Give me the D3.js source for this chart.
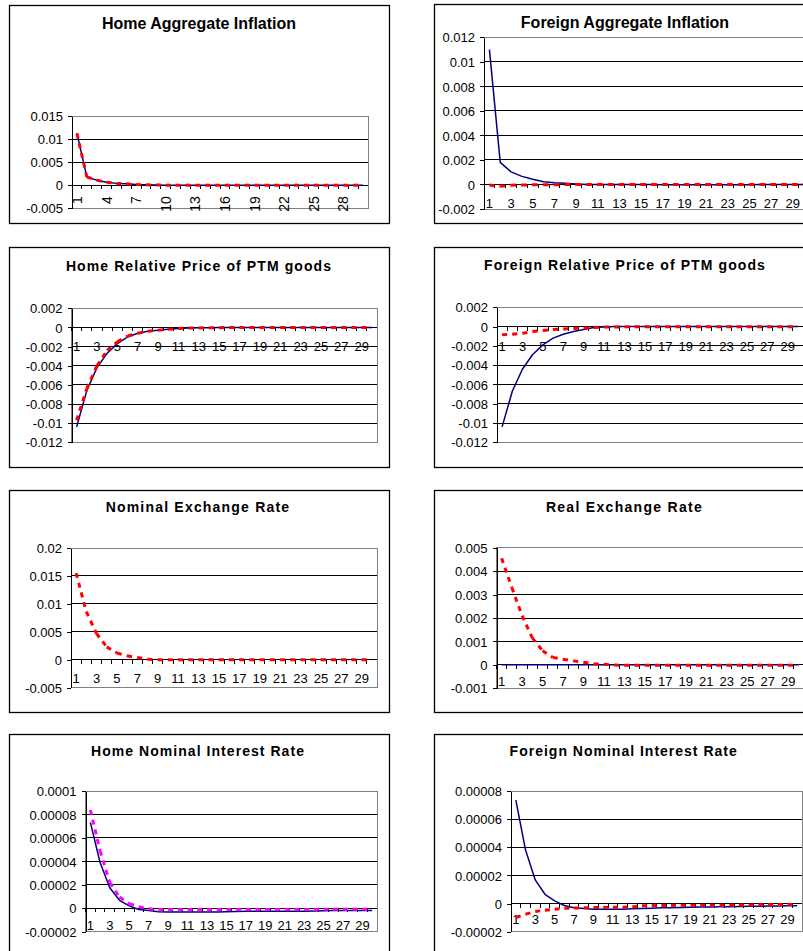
<!DOCTYPE html>
<html>
<head>
<meta charset="utf-8">
<script src="https://cdn.jsdelivr.net/npm/d3@7"></script>
<style>
  html, body { margin: 0; padding: 0; background: #fff; }
  svg { display: block; font-family: "Liberation Sans", Arial, sans-serif; }
</style>
</head>
<body>
<svg id="chart" width="803" height="951"></svg>
<script>
// Quarters after the shock (category axis)
const periods = [1, 2, 3, 4, 5, 6, 7, 8, 9, 10, 11, 12, 13, 14, 15,
                 16, 17, 18, 19, 20, 21, 22, 23, 24, 25, 26, 27, 28, 29, 30];

// Home aggregate inflation
const homeInflSolid = [0.0113, 0.0018, 0.0011, 0.00065, 0.0004, 0.0003, 0.00015, 0.00008, 0.00004, 0.00002,
                       0, 0, 0, 0, 0, 0, 0, 0, 0, 0, 0, 0, 0, 0, 0, 0, 0, 0, 0, 0];
const homeInflDash  = [0.0112, 0.0018, 0.0011, 0.00065, 0.0004, 0.0003, 0.00015, 0.00008, 0.00004, 0.00002,
                       0, 0, 0, 0, 0, 0, 0, 0, 0, 0, 0, 0, 0, 0, 0, 0, 0, 0, 0, 0];
const homeInflTicks = ["0.015", "0.01", "0.005", "0", "-0.005"];

// Foreign aggregate inflation
const forInflSolid = [0.0110, 0.0018, 0.00103, 0.00066, 0.00042, 0.00022, 0.00014, 0.0001, 0.00003, 0,
                      0, 0, 0, 0, 0, 0, -0.00002, -0.00003, -0.00003, -0.00003,
                      -0.00003, -0.00003, -0.00003, -0.00003, -0.00002, -0.00001, 0, 0, 0, 0];
const forInflDash  = [-0.00005, -0.00015, -0.00006, -0.00004, -0.00003, -0.00002, -0.00002, -0.00001, 0, 0,
                      0, 0, 0, 0, 0, 0, 0, 0, 0, 0, 0, 0, 0, 0, 0, 0, 0, 0, 0, 0];
const forInflTicks = ["0.012", "0.01", "0.008", "0.006", "0.004", "0.002", "0", "-0.002"];

// Home relative price of PTM goods
const homePtmSolid = [-0.0104, -0.0066, -0.0042, -0.0027, -0.0017, -0.0010, -0.0006, -0.0004, -0.0003, -0.0002,
                      -0.0001, -0.00005, -0.00003, -0.00002, 0, 0, 0, 0, 0, 0, 0, 0, 0, 0, 0, 0, 0, 0, 0, 0];
const homePtmDash  = [-0.0097, -0.0064, -0.0040, -0.0024, -0.0015, -0.0009, -0.0006, -0.0004, -0.0003, -0.0002,
                      -0.0001, -0.00007, -0.00005, -0.00004, -0.00002, 0, 0, 0, 0, 0, 0, 0, 0, 0, 0, 0, 0, 0, 0, 0];
const homePtmTicks = ["0.002", "0", "-0.002", "-0.004", "-0.006", "-0.008", "-0.01", "-0.012"];

// Foreign relative price of PTM goods
const forPtmSolid = [-0.0104, -0.0067, -0.0044, -0.0029, -0.0019, -0.0012, -0.0008, -0.0005, -0.0003, -0.0001,
                     -0.00005, 0, 0, 0, 0, 0, 0, 0, 0, 0, 0, 0, 0, 0, 0, 0, 0, 0, 0, 0];
const forPtmDash  = [-0.00085, -0.0008, -0.0007, -0.0005, -0.0004, -0.0003, -0.00025, -0.0002, -0.00015, -0.0001,
                     -0.00005, -0.00003, -0.00003, -0.00002, -0.00002, -0.00002, -0.00002, -0.00002, -0.00002, -0.00002,
                     -0.00002, -0.00002, -0.00002, -0.00002, -0.00002, -0.00002, -0.00002, -0.00002, -0.00002, -0.00002];
const forPtmTicks = ["0.002", "0", "-0.002", "-0.004", "-0.006", "-0.008", "-0.01", "-0.012"];

// Nominal exchange rate
const nomErDash = [0.0155, 0.0086, 0.0047, 0.0023, 0.0012, 0.0007, 0.0004, 0.0001, 0, 0,
                   0, 0, 0, 0, 0, 0, 0, 0, 0, 0, 0, 0, 0, 0, 0, 0, 0, 0, 0, 0];
const nomErTicks = ["0.02", "0.015", "0.01", "0.005", "0", "-0.005"];

// Real exchange rate
const realErSolid = [0, 0, 0, 0, 0, 0, 0, 0, 0, 0, 0, 0, 0, 0, 0,
                     0, 0, 0, 0, 0, 0, 0, 0, 0, 0, 0, 0, 0, 0, 0];
const realErDash  = [0.00455, 0.0033, 0.0021, 0.00115, 0.0006, 0.00032, 0.00024, 0.00017, 0.00011, 0.00004,
                     0.00003, -0.00001, -0.00002, -0.00002, -0.00002, -0.00002, -0.00002, -0.00002, -0.00002, -0.00002,
                     -0.00002, -0.00002, -0.00002, -0.00002, -0.00002, -0.00002, -0.00002, -0.00002, -0.00002, -0.00002];
const realErTicks = ["0.005", "0.004", "0.003", "0.002", "0.001", "0", "-0.001"];

// Home nominal interest rate
const homeRateSolid = [0.0000732, 0.000039, 0.0000175, 0.0000068, 0.000002, -0.000001, -0.000002, -0.000003, -0.0000033, -0.0000033,
                       -0.0000033, -0.0000033, -0.0000033, -0.0000033, -0.000003, -0.0000028, -0.0000026, -0.0000025, -0.0000025, -0.0000025,
                       -0.0000025, -0.0000025, -0.0000025, -0.0000024, -0.0000022, -0.000002, -0.000002, -0.000002, -0.000002, -0.000002];
const homeRateDash  = [0.0000838, 0.000049, 0.000022, 0.0000095, 0.000004, 0.0000012, -0.0000005, -0.000001, -0.000001, -0.000001,
                       -0.000001, -0.000001, -0.000001, -0.000001, -0.000001, -0.000001, -0.000001, -0.000001, -0.000001, -0.000001,
                       -0.000001, -0.000001, -0.000001, -0.000001, -0.0000008, -0.0000008, -0.0000008, -0.0000008, -0.0000008, -0.0000008];
const homeRateTicks = ["0.0001", "0.00008", "0.00006", "0.00004", "0.00002", "0", "-0.00002"];

// Foreign nominal interest rate
const forRateSolid = [0.0000735, 0.000038, 0.0000168, 0.0000066, 0.0000019, -0.0000014, -0.000003, -0.0000035, -0.000004, -0.000004,
                      -0.000004, -0.000004, -0.0000037, -0.0000035, -0.0000033, -0.000003, -0.000003, -0.0000028, -0.0000026, -0.0000025,
                      -0.0000024, -0.0000023, -0.0000022, -0.0000021, -0.000002, -0.0000019, -0.0000018, -0.0000017, -0.0000016, -0.0000015];
const forRateDash  = [-0.0000099, -0.0000076, -0.0000057, -0.0000047, -0.000004, -0.0000033, -0.0000032, -0.000003, -0.0000028, -0.0000027,
                      -0.0000027, -0.0000026, -0.0000024, -0.0000016, -0.0000014, -0.0000014, -0.0000013, -0.0000012, -0.0000012, -0.0000012,
                      -0.0000012, -0.0000012, -0.0000011, -0.000001, -0.000001, -0.0000009, -0.0000008, -0.0000007, -0.0000007, -0.0000007];
const forRateTicks = ["0.00008", "0.00006", "0.00004", "0.00002", "0", "-0.00002"];

const NAVY = "#000080", RED = "#ff0000", MAGENTA = "#ff00ff";

// Panel layout: outer frame, plot area, title placement, category-label style
const panels = [
  { title: "Home Aggregate Inflation", frame: [9, 5, 380, 218], plot: [72, 116, 368, 208.3],
    tx: 199, ty: 29, tsize: 16, tspace: 0, ticks: homeInflTicks, rotate: true, step: 3, lab: 11,
    series: [{ v: homeInflSolid, c: NAVY }, { v: homeInflDash, c: RED, dash: true }] },
  { title: "Foreign Aggregate Inflation", frame: [434, 4, 420, 219], plot: [484, 37.3, 809, 209],
    tx: 625, ty: 28, tsize: 16, tspace: 0, ticks: forInflTicks, rotate: false, step: 2, lab: 24,
    series: [{ v: forInflSolid, c: NAVY }, { v: forInflDash, c: RED, dash: true }] },
  { title: "Home Relative Price of PTM goods", frame: [9, 247, 380, 220], plot: [71.5, 308.3, 377, 442.3],
    tx: 199, ty: 270.5, tsize: 14, tspace: 1.1, ticks: homePtmTicks, rotate: false, step: 2, lab: 23.3,
    series: [{ v: homePtmSolid, c: NAVY }, { v: homePtmDash, c: RED, dash: true }] },
  { title: "Foreign Relative Price of PTM goods", frame: [434, 247, 420, 220], plot: [497, 307.3, 803, 442.3],
    tx: 625, ty: 270, tsize: 14, tspace: 1.1, ticks: forPtmTicks, rotate: false, step: 2, lab: 24,
    series: [{ v: forPtmSolid, c: NAVY }, { v: forPtmDash, c: RED, dash: true }] },
  { title: "Nominal Exchange Rate", frame: [9, 490, 380, 222], plot: [71, 548, 377, 687.7],
    tx: 198, ty: 512, tsize: 14, tspace: 1.2, ticks: nomErTicks, rotate: false, step: 2, lab: 23,
    series: [{ v: nomErDash, c: RED, dash: true }] },
  { title: "Real Exchange Rate", frame: [434, 490, 420, 222], plot: [496.5, 547.7, 803.5, 688.3],
    tx: 624.5, ty: 512, tsize: 14, tspace: 1.3, ticks: realErTicks, rotate: false, step: 2, lab: 20.7,
    series: [{ v: realErSolid, c: NAVY }, { v: realErDash, c: RED, dash: true }] },
  { title: "Home Nominal Interest Rate", frame: [9, 734, 380, 260], plot: [85.5, 791, 377, 931.7],
    tx: 198, ty: 756, tsize: 14, tspace: 1.05, ticks: homeRateTicks, rotate: false, step: 2, lab: 22,
    series: [{ v: homeRateSolid, c: NAVY }, { v: homeRateDash, c: MAGENTA, dash: true }] },
  { title: "Foreign Nominal Interest Rate", frame: [434, 734, 420, 260], plot: [511, 791, 802, 931.7],
    tx: 623.7, ty: 756, tsize: 14, tspace: 1.0, ticks: forRateTicks, rotate: false, step: 2, lab: 20,
    series: [{ v: forRateSolid, c: NAVY }, { v: forRateDash, c: RED, dash: true }] }
];

const svg = d3.select("#chart");

panels.forEach(p => {
  const g = svg.append("g");
  const [fx, fy, fw, fh] = p.frame;
  const [x0, top, x1, bottom] = p.plot;

  // Chart frame
  g.append("rect")
    .attr("x", fx + 0.5).attr("y", fy + 0.5).attr("width", fw).attr("height", fh)
    .attr("fill", "#fff").attr("stroke", "#000").attr("stroke-width", 1.3);

  // Title
  g.append("text")
    .attr("x", p.tx).attr("y", p.ty)
    .attr("text-anchor", "middle")
    .attr("font-size", p.tsize).attr("font-weight", "bold")
    .attr("letter-spacing", p.tspace)
    .attr("fill", "#000")
    .text(p.title);

  const tickVals = p.ticks.map(Number);
  const x = d3.scaleBand().domain(periods).range([x0, x1]).paddingInner(0).paddingOuter(0);
  const y = d3.scaleLinear().domain([d3.min(tickVals), d3.max(tickVals)]).range([bottom, top]);
  const cx = d => x(d) + x.bandwidth() / 2;

  // Plot area outline
  g.append("rect")
    .attr("x", x0).attr("y", top).attr("width", x1 - x0).attr("height", bottom - top)
    .attr("fill", "none").attr("stroke", "#808080").attr("stroke-width", 1)
    .attr("shape-rendering", "crispEdges");

  // Horizontal gridlines (interior ticks)
  g.selectAll(".grid")
    .data(tickVals.filter(v => v !== d3.min(tickVals) && v !== d3.max(tickVals)))
    .join("line")
    .attr("x1", x0).attr("x2", x1)
    .attr("y1", d => y(d)).attr("y2", d => y(d))
    .attr("stroke", "#000").attr("stroke-width", 1)
    .attr("shape-rendering", "crispEdges");

  // Value axis
  const yAxis = g.append("g")
    .attr("transform", `translate(${x0},0)`)
    .call(d3.axisLeft(y).tickValues(tickVals)
      .tickFormat((d, i) => p.ticks[i])
      .tickSize(4).tickSizeOuter(0).tickPadding(5));
  yAxis.select(".domain").attr("stroke", "#000").attr("shape-rendering", "crispEdges");
  yAxis.selectAll(".tick line").attr("stroke", "#000").attr("shape-rendering", "crispEdges");
  yAxis.selectAll(".tick text")
    .attr("font-size", 13).attr("font-family", "Liberation Sans, Arial, sans-serif")
    .attr("fill", "#000").attr("dy", "0.36em");

  // Category axis crossing at zero
  const zy = y(0);
  g.append("line")
    .attr("x1", x0).attr("x2", x1).attr("y1", zy).attr("y2", zy)
    .attr("stroke", "#000").attr("stroke-width", 1).attr("shape-rendering", "crispEdges");
  g.selectAll(".ctick")
    .data(periods)
    .join("line")
    .attr("x1", d => x(d)).attr("x2", d => x(d))
    .attr("y1", zy).attr("y2", zy + 4)
    .attr("stroke", "#000").attr("stroke-width", 1).attr("shape-rendering", "crispEdges");

  // Category labels
  const shown = periods.filter((d, i) => i % p.step === 0);
  if (p.rotate) {
    g.selectAll(".clab")
      .data(shown)
      .join("text")
      .attr("transform", d => `translate(${cx(d)},${zy + p.lab}) rotate(-90)`)
      .attr("text-anchor", "end").attr("dy", "0.36em")
      .attr("font-size", 14).attr("fill", "#000")
      .text(d => d);
  } else {
    g.selectAll(".clab")
      .data(shown)
      .join("text")
      .attr("x", d => cx(d)).attr("y", zy + p.lab)
      .attr("text-anchor", "middle")
      .attr("font-size", 13).attr("fill", "#000")
      .text(d => d);
  }

  // Series
  p.series.forEach(s => {
    const pts = s.v.map((v, i) => [cx(periods[i]), y(v)]);
    if (!s.dash) {
      g.append("path")
        .attr("d", d3.line()(pts))
        .attr("fill", "none").attr("stroke", s.c).attr("stroke-width", 1.5)
        .attr("stroke-linejoin", "round");
    } else {
      // dash pattern restarts at every data point
      g.selectAll(null)
        .data(d3.pairs(pts))
        .join("path")
        .attr("d", d => d3.line()(d))
        .attr("fill", "none").attr("stroke", s.c).attr("stroke-width", 3)
        .attr("stroke-dasharray", "5,5");
    }
  });
});
</script>
</body>
</html>
